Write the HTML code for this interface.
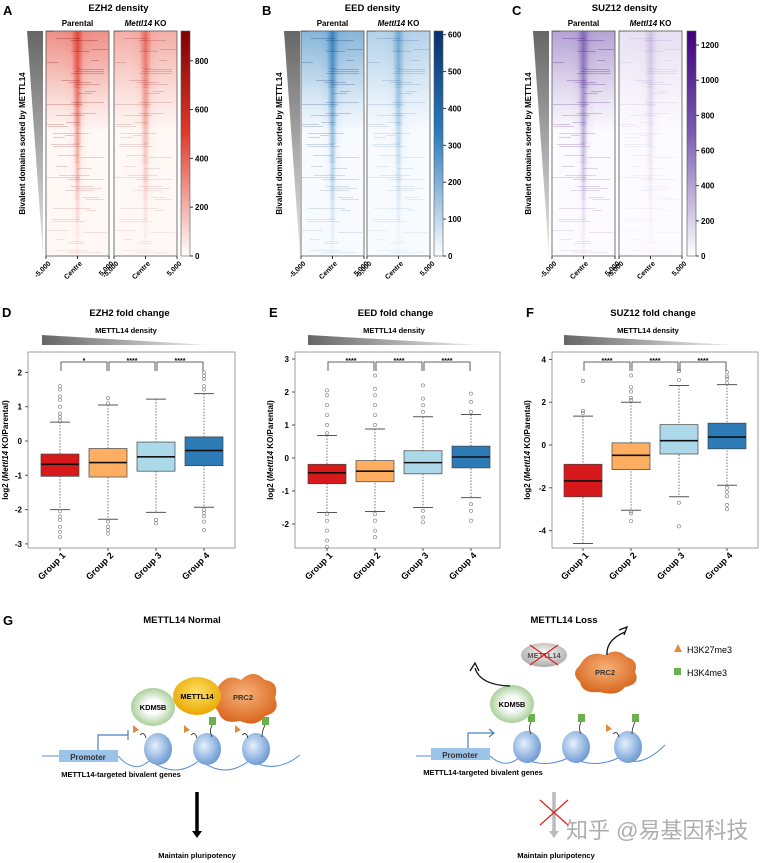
<!DOCTYPE html>
<html><head><meta charset="utf-8"><style>
html,body{margin:0;padding:0;background:#fff;}
svg{display:block;font-family:"Liberation Sans","Noto Sans CJK SC",sans-serif;}
</style></head><body>
<svg id="fig" width="761" height="863" viewBox="0 0 761 863" xmlns="http://www.w3.org/2000/svg">
<defs>
<linearGradient id="triV" x1="0" y1="0" x2="0" y2="1"><stop offset="0" stop-color="#666"/><stop offset="1" stop-color="#e8e8e8"/></linearGradient>
<linearGradient id="triH" x1="0" y1="0" x2="1" y2="0"><stop offset="0" stop-color="#666"/><stop offset="1" stop-color="#eee"/></linearGradient>
<radialGradient id="nuc" cx="0.4" cy="0.4" r="0.7"><stop offset="0" stop-color="#e6f0fb"/><stop offset="1" stop-color="#5d8fd0"/></radialGradient>
<radialGradient id="kdm" cx="0.5" cy="0.5" r="0.6"><stop offset="0.3" stop-color="#fff"/><stop offset="1" stop-color="#8fbf7a"/></radialGradient>
<radialGradient id="met" cx="0.5" cy="0.4" r="0.6"><stop offset="0" stop-color="#ffe066"/><stop offset="1" stop-color="#e8a800"/></radialGradient>
<radialGradient id="prc" cx="0.5" cy="0.4" r="0.6"><stop offset="0" stop-color="#f7b27a"/><stop offset="1" stop-color="#d8661e"/></radialGradient>
<radialGradient id="grey" cx="0.5" cy="0.4" r="0.6"><stop offset="0" stop-color="#fafafa"/><stop offset="1" stop-color="#aaa"/></radialGradient>
</defs>
<g id="heat"></g>
<g id="boxes"></g>
<g id="schema">
<text x="3" y="625" font-size="13" font-weight="bold">G</text>
<text x="182" y="623" font-size="9.5" font-weight="bold" text-anchor="middle">METTL14 Normal</text>
<text x="564" y="623" font-size="9.5" font-weight="bold" text-anchor="middle">METTL14 Loss</text>
<path d="M42,756 L60,756 M118,756 Q135,775 150,760 Q175,780 200,760 Q225,780 250,760 Q275,775 300,755" fill="none" stroke="#5d8fd0" stroke-width="1"/>
<rect x="59" y="750" width="59" height="12" fill="#9cc3e8"/>
<text x="88" y="760" font-size="8" font-weight="bold" text-anchor="middle" fill="#333">Promoter</text>
<path d="M98,750 V735 H128 M128,730 V740" fill="none" stroke="#4a7fc0" stroke-width="1.2"/>
<g>
<ellipse cx="158" cy="749" rx="14" ry="16" fill="url(#nuc)"/><ellipse cx="207" cy="749" rx="14" ry="16" fill="url(#nuc)"/><ellipse cx="256" cy="749" rx="14" ry="16" fill="url(#nuc)"/></g>
<g fill="#e08a3c"><path d="M133,725 l6,5 -6,3z"/><path d="M184,725 l6,5 -6,3z"/><path d="M235,725 l6,5 -6,3z"/></g>
<g fill="#6ab04c"><rect x="209" y="717" width="7" height="8"/><rect x="262" y="717" width="7" height="8"/></g>
<path d="M140,735 q4,-4 6,3 M191,735 q4,-4 6,3 M242,735 q4,-4 6,3 M212,725 q-3,6 0,12 M265,725 q-3,6 -3,12" fill="none" stroke="#222" stroke-width="0.8"/>
<ellipse cx="153" cy="707" rx="22" ry="19" fill="url(#kdm)"/>
<text x="153" y="710" font-size="7.5" font-weight="bold" text-anchor="middle">KDM5B</text>
<path d="M216,690 q10,-18 25,-10 q12,-12 24,0 q15,2 10,18 q6,14 -10,18 q-8,12 -25,5 q-18,4 -22,-10 q-12,-12 -2,-21z" fill="url(#prc)"/>
<text x="243" y="700" font-size="7.5" font-weight="bold" text-anchor="middle" fill="#333">PRC2</text>
<ellipse cx="197" cy="696" rx="24" ry="19" fill="url(#met)"/>
<text x="197" y="699" font-size="7.5" font-weight="bold" text-anchor="middle">METTL14</text>
<text x="121" y="777" font-size="7.5" font-weight="bold" text-anchor="middle">METTL14-targeted bivalent genes</text>
<path d="M197,792 V832" stroke="#000" stroke-width="3.5"/><path d="M192,831 h10 l-5,7z" fill="#000"/>
<text x="197" y="858" font-size="7.5" font-weight="bold" text-anchor="middle">Maintain pluripotency</text>
<path d="M416,756 L431,756 M490,756 Q505,770 520,757 Q545,770 570,757 Q595,770 620,757 Q640,770 665,745" fill="none" stroke="#5d8fd0" stroke-width="1"/>
<rect x="431" y="748" width="59" height="12" fill="#9cc3e8"/>
<text x="460" y="758" font-size="8" font-weight="bold" text-anchor="middle" fill="#333">Promoter</text>
<path d="M468,748 V733 H493" fill="none" stroke="#4a7fc0" stroke-width="1.2"/><path d="M489,729 l5,4 -5,4" fill="none" stroke="#4a7fc0" stroke-width="1.2"/>
<g><ellipse cx="527" cy="747" rx="14" ry="16" fill="url(#nuc)"/><ellipse cx="576" cy="747" rx="14" ry="16" fill="url(#nuc)"/><ellipse cx="628" cy="747" rx="14" ry="16" fill="url(#nuc)"/></g>
<g fill="#6ab04c"><rect x="528" y="714" width="7" height="8"/><rect x="578" y="714" width="7" height="8"/><rect x="632" y="714" width="7" height="8"/></g>
<path d="M606,724 l6,5 -6,3z" fill="#e08a3c"/>
<path d="M531,722 q-3,6 0,12 M581,722 q-3,6 0,12 M635,722 q-3,6 -3,12 M613,734 q4,-4 6,3" fill="none" stroke="#222" stroke-width="0.8"/>
<ellipse cx="512" cy="704" rx="22" ry="19" fill="url(#kdm)"/>
<text x="512" y="707" font-size="7.5" font-weight="bold" text-anchor="middle">KDM5B</text>
<path d="M510,686 Q480,685 475,668" fill="none" stroke="#111" stroke-width="1.3"/><path d="M470,671 l5,-8 4,8" fill="none" stroke="#111" stroke-width="1.3"/>
<ellipse cx="544" cy="655" rx="23" ry="12" fill="url(#grey)"/>
<text x="544" y="658" font-size="7.5" font-weight="bold" text-anchor="middle" fill="#555">METTL14</text>
<path d="M530,645 L558,665 M558,645 L530,665" stroke="#e02020" stroke-width="1.2"/>
<path d="M580,665 q8,-15 25,-10 q12,-8 22,2 q12,4 8,15 q6,12 -10,15 q-8,10 -25,5 q-18,2 -20,-10 q-10,-8 0,-17z" fill="url(#prc)"/>
<text x="605" y="675" font-size="7.5" font-weight="bold" text-anchor="middle" fill="#333">PRC2</text>
<path d="M607,655 Q606,640 625,632" fill="none" stroke="#111" stroke-width="1.3"/><path d="M619,630 l8,-3 -3,8" fill="none" stroke="#111" stroke-width="1.3"/>
<path d="M674,652 l4,-8 4,8z" fill="#e08a3c"/>
<text x="687" y="653" font-size="9">H3K27me3</text>
<rect x="674" y="668" width="7" height="7" fill="#6ab04c"/>
<text x="687" y="676" font-size="9">H3K4me3</text>
<text x="483" y="775" font-size="7.5" font-weight="bold" text-anchor="middle">METTL14-targeted bivalent genes</text>
<path d="M554,792 V832" stroke="#bbb" stroke-width="3.5"/><path d="M549,831 h10 l-5,7z" fill="#bbb"/>
<path d="M540,800 L568,825 M568,800 L540,825" stroke="#e02020" stroke-width="1.2"/>
<text x="556" y="858" font-size="7.5" font-weight="bold" text-anchor="middle">Maintain pluripotency</text>
<text x="566" y="838" font-size="22" fill="#999" fill-opacity="0.8">知乎 @易基因科技</text>
</g>
</svg>
<script>
const NS='http://www.w3.org/2000/svg';
function mk(p,t,a){const e=document.createElementNS(NS,t);for(const k in a)e.setAttribute(k,a[k]);p.appendChild(e);return e;}
function tx(p,x,y,s,a){const e=mk(p,'text',Object.assign({x:x,y:y},a||{}));e.textContent=s;return e;}

const heatTitles=['EZH2 density','EED density','SUZ12 density'];
const heatLetters=['A','B','C'];
const heatMax=[922,610,1280];
const heatTicks=[[0,200,400,600,800],[0,100,200,300,400,500,600],[0,200,400,600,800,1000,1200]];
const heatKO=[0.7,0.6,0.3];
const heatDark=['#7f0000','#08306b','#3f007d'];
const heatMid=['#e0392b','#2b7bba','#7b5cb0'];
const heatLight=['#fff8f5','#f7fbff','#fcfbff'];
const heatX=[[3,27,46,114,181],[262,284,301,367,434],[512,533,552,619,687]];
const hg=document.getElementById('heat');
const defs=document.querySelector('defs');
for(let p=0;p<3;p++){
  const [lx,tx0,px,kx,cx]=heatX[p];const top=31,bot=256,H=bot-top,W=63;
  const g=mk(hg,'g',{});
  
  
  const l=tx(g,lx,15,heatLetters[p],{'font-size':13,'font-weight':'bold'});
  
  const t=tx(g,(px+cx)/2+5,11,heatTitles[p],{'font-size':9.5,'font-weight':'bold','text-anchor':'middle'});
  
  tx(g,px+W/2,26,'Parental',{'font-size':8,'font-weight':'bold','text-anchor':'middle'});
  const ko=tx(g,kx+W/2,26,'',{'font-size':8,'font-weight':'bold','text-anchor':'middle'});
  ko.innerHTML='<tspan font-style="italic">Mettl14</tspan> KO';
  const tri=mk(g,'path',{d:`M${tx0},${top} L${tx0+16},${top} L${tx0+16},${bot}z`,fill:'url(#triV)'});
  
  const yl=tx(g,0,0,'Bivalent domains sorted by METTL14',{'font-size':8,'font-weight':'bold','text-anchor':'middle',transform:`translate(${tx0-2},${(top+bot)/2}) rotate(-90)`});
  
  const gid='hg'+p;
  const lg=mk(defs,'linearGradient',{id:gid,x1:0,y1:0,x2:1,y2:0});
  [[0,0],[0.3,0.1],[0.5,1],[0.7,0.1],[1,0]].forEach(s=>mk(lg,'stop',{offset:s[0],'stop-color':heatMid[p],'stop-opacity':s[1]}));
  const tg='ht'+p;const tl=mk(defs,'linearGradient',{id:tg,x1:0,y1:0,x2:0,y2:1});
  [[0,0.55],[0.3,0.15],[0.45,0]].forEach(s=>mk(tl,'stop',{offset:s[0],'stop-color':heatMid[p],'stop-opacity':s[1]}));
  [[px,1],[kx,heatKO[p]]].forEach(([x,f],j)=>{
    const hm=mk(g,'g',{});
    
    mk(hm,'rect',{x:x,y:top,width:W,height:H,fill:heatLight[p]});
    mk(hm,'rect',{x:x,y:top,width:W,height:H,fill:`url(#${tg})`,opacity:f});
    for(let s=0;s<12;s++){
      const y=top+s*H/12;const op=f*Math.max(0.06,0.85-s*0.075);const ww=W*(0.5-s*0.03);
      mk(hm,'rect',{x:x+W/2-ww/2,y:y,width:ww,height:H/12+0.5,fill:`url(#${gid})`,opacity:op});
    }
    for(let i=0;i<50;i++){
      const yy=top+((i*53)%223);const ln=8+((i*17)%30);const xs=x+((i*29)%(W-ln));
      mk(hm,'rect',{x:xs,y:yy,width:ln,height:1,fill:heatDark[p],opacity:f*0.28*(1-(yy-top)/H*0.7)});
    }
    mk(hm,'rect',{x:x,y:top,width:W,height:H,fill:'none',stroke:'#555','stroke-width':0.8});
    ['-5,000','Centre','5,000'].forEach((s,k)=>{
      const xx=x+k*W/2;mk(hm,'line',{x1:xx,x2:xx,y1:bot,y2:bot+3,stroke:'#333'});
      tx(hm,0,0,s,{'font-size':7,'font-weight':'bold','text-anchor':'end',transform:`translate(${xx+5},${bot+8}) rotate(-45)`});
    });
  });
  const cg='cb'+p;const cl=mk(defs,'linearGradient',{id:cg,x1:0,y1:0,x2:0,y2:1});
  mk(cl,'stop',{offset:0,'stop-color':heatDark[p]});mk(cl,'stop',{offset:0.45,'stop-color':heatMid[p]});mk(cl,'stop',{offset:1,'stop-color':'#fff'});
  const cb=mk(g,'rect',{x:cx,y:top,width:9,height:H,fill:`url(#${cg})`,stroke:'#555','stroke-width':0.6});
  
  heatTicks[p].forEach(v=>{const y=bot-v/heatMax[p]*H;mk(g,'line',{x1:cx+9,x2:cx+12,y1:y,y2:y,stroke:'#333'});tx(g,cx+14,y+3,String(v),{'font-size':8,'font-weight':'bold'});});
}

const groups=['Group 1','Group 2','Group 3','Group 4'];
const boxColors=['#d7191c','#fdae61','#abd9e9','#2c7bb6'];
const dQ1=[-1.03,-1.05,-0.88,-0.72],dMed=[-0.68,-0.63,-0.46,-0.28],dQ3=[-0.38,-0.22,-0.03,0.12],dLo=[-2.0,-2.28,-2.08,-1.93],dHi=[0.55,1.05,1.22,1.38];
const dOut=[[1.6,1.5,1.3,1.2,1.0,0.8,0.7,0.6,-2.05,-2.2,-2.3,-2.5,-2.65,-2.8],[1.25,1.1,-2.35,-2.5,-2.6,-2.7],[-2.3,-2.4],[2.0,1.9,1.8,1.6,1.5,-2.0,-2.1,-2.2,-2.35,-2.6]];
const dTicks=[2,1,0,-1,-2,-3];const dSig=['*','****','****'];
const eQ1=[-0.78,-0.72,-0.48,-0.3],eMed=[-0.45,-0.4,-0.14,0.03],eQ3=[-0.19,-0.08,0.22,0.36],eLo=[-1.65,-1.62,-1.5,-1.2],eHi=[0.68,0.88,1.25,1.32];
const eOut=[[2.05,1.9,1.6,1.3,1.0,0.75,-1.7,-1.9,-2.2,-2.5,-2.7],[2.5,2.1,1.9,1.6,1.3,1.0,-1.7,-1.9,-2.2,-2.4],[2.2,1.8,1.6,1.4,-1.6,-1.8,-1.95],[1.95,1.7,1.4,-1.4,-1.6,-1.9]];
const eTicks=[3,2,1,0,-1,-2];const eSig=['****','****','****'];
const fQ1=[-2.42,-1.15,-0.42,-0.18],fMed=[-1.68,-0.48,0.2,0.37],fQ3=[-0.9,0.1,0.95,1.02],fLo=[-4.6,-3.05,-2.42,-1.88],fHi=[1.35,2.0,2.78,2.82];
const fOut=[[3.0,1.6,1.5],[3.25,2.7,2.5,2.2,2.1,-3.1,-3.2,-3.55],[3.45,3.05,-2.7,-3.8],[3.4,3.2,3.1,2.9,-2.0,-2.2,-2.4,-2.8,-3.0]];
const fTicks=[4,2,0,-2,-4];const fSig=['****','****','****'];

const panels=[
 {L:'D',title:'EZH2 fold change',x0:28,x1:235,zero:441,ppu:34.3,g0:60,q1:dQ1,med:dMed,q3:dQ3,lo:dLo,hi:dHi,out:dOut,ticks:dTicks,sig:dSig,tri:[42,210],ylx:8},
 {L:'E',title:'EED fold change',x0:295,x1:500,zero:458,ppu:33,g0:327,q1:eQ1,med:eMed,q3:eQ3,lo:eLo,hi:eHi,out:eOut,ticks:eTicks,sig:eSig,tri:[308,480],ylx:273},
 {L:'F',title:'SUZ12 fold change',x0:552,x1:758,zero:445,ppu:21.4,g0:583,q1:fQ1,med:fMed,q3:fQ3,lo:fLo,hi:fHi,out:fOut,ticks:fTicks,sig:fSig,tri:[564,732],ylx:530}
];
const bg=document.getElementById('boxes');
panels.forEach(P=>{
  const g=mk(bg,'g',{});
  
  
  const Y=v=>P.zero-v*P.ppu;const X=i=>P.g0+i*48;const top=352,bot=548,bw=38;
  tx(g,P.x0-26,317,P.L,{'font-size':13,'font-weight':'bold'});
  const t=tx(g,(P.x0+P.x1)/2-2,316,P.title,{'font-size':9.5,'font-weight':'bold','text-anchor':'middle'});
  
  tx(g,(P.tri[0]+P.tri[1])/2,333,'METTL14 density',{'font-size':7.5,'font-weight':'bold','text-anchor':'middle'});
  const tri=mk(g,'path',{d:`M${P.tri[0]},335 L${P.tri[1]},345 L${P.tri[0]},345z`,fill:'url(#triH)'});
  
  const fr=mk(g,'rect',{x:P.x0,y:top,width:P.x1-P.x0,height:bot-top,fill:'none',stroke:'#888','stroke-width':0.8});
  
  P.ticks.forEach(v=>{const y=Y(v);mk(g,'line',{x1:P.x0-3,x2:P.x0,y1:y,y2:y,stroke:'#555'});
    const lb=tx(g,P.x0-6,y+3,String(v),{'font-size':8,'font-weight':'bold','text-anchor':'end'});
    });
  const yl=tx(g,0,0,'',{'font-size':8,'font-weight':'bold','text-anchor':'middle',transform:`translate(${P.ylx},450) rotate(-90)`});
  yl.innerHTML='log2 (<tspan font-style="italic">Mettl14</tspan> KO/Parental)';
  
  groups.forEach((gn,i)=>{
    const x=X(i);
    const bx=mk(g,'g',{});
    
    mk(bx,'line',{x1:x,x2:x,y1:Y(P.hi[i]),y2:Y(P.lo[i]),stroke:'#555','stroke-dasharray':'1.5,1.5','stroke-width':0.8});
    mk(bx,'line',{x1:x-10,x2:x+10,y1:Y(P.hi[i]),y2:Y(P.hi[i]),stroke:'#555'});
    mk(bx,'line',{x1:x-10,x2:x+10,y1:Y(P.lo[i]),y2:Y(P.lo[i]),stroke:'#555'});
    mk(bx,'rect',{x:x-bw/2,y:Y(P.q3[i]),width:bw,height:Y(P.q1[i])-Y(P.q3[i]),fill:boxColors[i],stroke:'#444','stroke-width':0.7});
    mk(bx,'line',{x1:x-bw/2,x2:x+bw/2,y1:Y(P.med[i]),y2:Y(P.med[i]),stroke:'#111','stroke-width':1.6});
    P.out[i].forEach(v=>mk(bx,'circle',{cx:x,cy:Y(v),r:1.6,fill:'none',stroke:'#777','stroke-width':0.6}));
    mk(g,'line',{x1:x,x2:x,y1:bot,y2:bot+3,stroke:'#555'});
    const gl=tx(g,0,0,gn,{'font-size':9,'font-weight':'bold','text-anchor':'end',transform:`translate(${x+6},${bot+8}) rotate(-45)`});
    
  });
  P.sig.forEach((s,i)=>{
    const a=X(i),b=X(i+1);
    const br=mk(g,'path',{d:`M${a+1},371 V362 H${b-1} V371`,fill:'none',stroke:'#333','stroke-width':0.8});
    
    tx(g,(a+b)/2,363,s,{'font-size':7,'text-anchor':'middle','font-weight':'bold'});
  });
});
</script>
</body></html>
